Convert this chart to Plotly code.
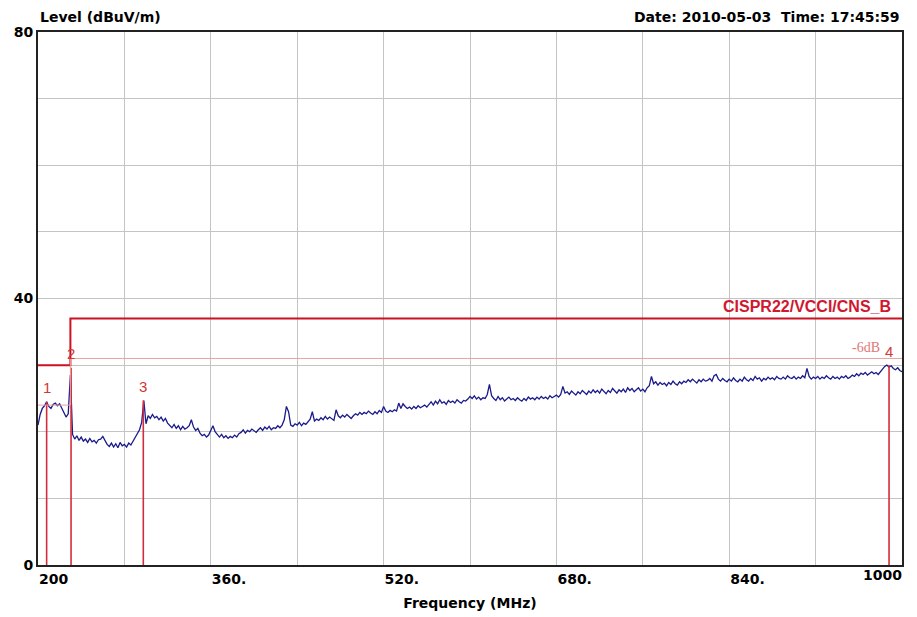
import plotly.graph_objects as go

# ---------------- data ----------------
freq_start = 200
freq_step = 2
level = [
    21.0, 22.6, 23.5, 23.9, 24.5, 23.8, 23.5, 24.1, 24.3, 23.9,
    24.2, 23.6, 23.0, 22.2, 22.7, 28.5, 19.6, 18.9, 19.4, 18.7,
    19.2, 18.6, 18.9, 18.4, 19.0, 18.5, 18.7, 18.3, 18.8, 18.9,
    19.3, 18.6, 18.1, 17.8, 18.3, 17.7, 18.2, 17.6, 18.4, 17.9,
    18.1, 17.7, 18.3, 18.0, 18.6, 19.0, 19.6, 20.3, 21.4, 24.7,
    21.2, 22.4, 22.0, 22.6, 22.1, 22.3, 21.8, 22.2, 21.6, 22.0,
    21.3, 21.0, 20.6, 21.1, 20.5, 20.9, 20.3, 20.8, 20.4, 20.6,
    20.9, 21.8, 20.7, 20.2, 20.5, 19.8, 19.4, 19.6, 19.2, 19.5,
    20.1, 20.9, 20.0, 19.5, 19.2, 19.6, 19.1, 19.4, 19.0, 19.3,
    19.1, 19.5, 19.2, 19.7, 19.9, 20.3, 19.8, 20.2, 20.0, 20.4,
    20.1, 19.9, 20.3, 20.6, 20.2, 20.7, 20.4, 20.8, 20.3, 20.6,
    20.5, 20.9, 20.6, 21.0, 21.8, 23.8, 23.0, 21.0, 20.8, 21.2,
    21.0, 21.4, 20.9, 21.3, 21.1, 21.5, 21.9, 23.0, 21.6, 21.9,
    21.7, 22.1, 21.8, 22.3, 21.9, 22.2, 22.0, 21.7, 23.3, 22.4,
    22.1, 22.5, 22.2, 22.6, 22.3, 22.0, 22.4, 22.7, 22.5, 22.9,
    22.6, 22.9, 22.7, 23.1, 22.8, 22.6, 23.0, 22.7, 23.2, 22.9,
    23.8, 23.1, 22.9, 23.2, 23.0, 23.3, 23.1, 24.3, 23.5, 24.2,
    23.8, 23.5, 23.7, 23.4, 23.8, 23.5, 23.9, 23.6, 23.8, 24.0,
    23.7, 24.2, 24.5, 24.0, 24.6, 24.2, 24.8, 24.3, 24.5, 24.1,
    24.7, 24.4, 24.6, 24.3, 24.8, 24.5, 24.3, 24.7, 24.6, 24.9,
    25.3, 25.0, 25.4, 24.9, 25.2, 24.8, 25.1, 25.0, 25.6, 27.1,
    25.4, 25.0, 24.7, 25.3, 24.8, 25.1, 24.6, 24.9, 25.2, 24.8,
    25.0, 24.7, 25.1, 24.8, 24.6, 25.0, 24.7, 25.2, 24.9, 25.1,
    24.8, 25.2, 24.9, 25.3, 25.0, 25.2, 24.9, 25.4, 25.1, 25.3,
    25.5, 25.2, 25.6, 26.8, 25.8, 26.0, 25.6, 26.1, 25.8, 25.5,
    26.0, 25.7, 26.2, 25.9, 25.6, 26.1, 25.8, 26.3, 25.9, 26.2,
    25.8, 26.4, 26.0, 25.7, 26.2, 25.9, 26.5, 26.1, 25.8, 26.3,
    26.0, 26.4, 25.9, 26.6, 26.2, 26.5, 26.0, 26.3, 26.6, 26.1,
    26.4, 26.0, 26.6, 26.9, 28.3, 27.2, 27.5, 27.0, 27.4, 27.1,
    27.3, 26.9, 27.4, 27.1, 27.6, 27.2, 27.0, 27.5, 27.2, 27.6,
    27.4, 27.8, 27.5, 27.9, 27.6, 27.3, 27.8, 27.5, 27.9, 27.6,
    27.7, 28.0, 27.6, 28.4, 28.6, 27.9, 27.6, 28.0, 27.7, 27.5,
    27.9, 27.6, 28.1, 27.7, 27.5, 27.9, 27.6, 28.2, 27.8, 27.6,
    28.0, 27.7, 28.3, 27.9, 28.1, 27.6, 28.0, 27.8, 28.2, 27.9,
    28.1, 27.8, 28.3, 28.0, 27.9, 28.2, 27.9, 28.4, 28.1, 28.0,
    28.3, 27.9, 28.2, 28.0, 28.4, 28.1, 29.5, 28.3, 27.9, 28.2,
    28.0, 28.3, 27.9, 28.2, 28.0, 28.4, 28.1, 27.9, 28.3, 28.0,
    28.2, 27.9, 28.3, 28.1, 28.4, 28.0, 28.2, 28.5, 28.3, 28.7,
    28.4, 28.8, 28.6, 28.9, 28.5, 28.8, 29.0, 28.7, 28.9, 28.6,
    29.0, 29.4, 29.8, 30.0, 29.7, 29.9, 29.5, 29.3, 29.6, 29.2,
    29.0,
]
freq = [freq_start + i * freq_step for i in range(len(level))]

limit_freq = [200, 230, 230, 1000]
limit_level = [30, 30, 37, 37]
margin_level = [24, 24, 31, 31]

marker_freq = [208.0, 230.6, 297.5, 988.0]
marker_level = [24.5, 29.6, 24.7, 30.0]
marker_label = ["1", "2", "3", "4"]

x_tickvals = [200, 360, 520, 680, 840]
x_ticktext = ["200", "360.", "520.", "680.", "840."]
x_end_tick = [1000]
x_end_text = ["1000"]
y_tickvals = [0, 40, 80]
y_ticktext = ["0", "40", "80"]

# ---------------- styles ----------------
BOLD = "DejaVu Sans"
fig = go.Figure()

fig.add_trace(go.Scatter(x=freq, y=level, mode="lines",
                         line=dict(color="#1a1a8a", width=1.3), hoverinfo="skip"))

# marker vertical lines
mx, my = [], []
for f, l in zip(marker_freq, marker_level):
    mx += [f, f, None]
    my += [0, l, None]
fig.add_trace(go.Scatter(x=mx, y=my, mode="lines",
                         line=dict(color="#d42c3c", width=1.6), hoverinfo="skip"))

fig.add_trace(go.Scatter(x=limit_freq, y=margin_level, mode="lines", xaxis="x2",
                         line=dict(color="#e9a0a0", width=1), hoverinfo="skip"))
fig.add_trace(go.Scatter(x=limit_freq, y=limit_level, mode="lines",
                         line=dict(color="#cc1122", width=2), hoverinfo="skip"))

for f, l, t in zip(marker_freq, marker_level, marker_label):
    fig.add_annotation(x=f, y=l, text=t, showarrow=False, yshift=14,
                       font=dict(family="Liberation Sans", size=15, color="#d03838"))

fig.add_annotation(x=1000, y=37, text="CISPR22/VCCI/CNS_B", showarrow=False,
                   xanchor="right", yanchor="bottom", xshift=-9, yshift=1,
                   font=dict(family="Liberation Sans", size=16, color="#d01830", weight="bold"))
fig.add_annotation(x=1000, y=31, text="-6dB", showarrow=False,
                   xanchor="right", yanchor="bottom", xshift=-20, yshift=1,
                   font=dict(family="Liberation Serif", size=14, color="#e27878"))

fig.add_annotation(x=0, y=1, xref="paper", yref="paper", text="Level (dBuV/m)",
                   showarrow=False, xanchor="left", yanchor="middle", yshift=15,
                   font=dict(family=BOLD, size=14, color="black", weight="bold"))
fig.add_annotation(x=1, y=1, xref="paper", yref="paper",
                   text="Date: 2010-05-03&nbsp;&nbsp;Time: 17:45:59",
                   showarrow=False, xanchor="right", yanchor="middle", yshift=15,
                   font=dict(family=BOLD, size=14, color="black", weight="bold"))

tickfont = dict(family=BOLD, size=14, color="black", weight="bold")
grid = "#c4c4c4"
fig.update_layout(
    width=917, height=617,
    margin=dict(l=38, r=15, t=32, b=52),
    paper_bgcolor="white", plot_bgcolor="white",
    showlegend=False,
    xaxis=dict(range=[200, 1000], tickvals=x_tickvals, ticktext=x_ticktext,
               ticklabelposition="outside right", tickfont=tickfont,
               showgrid=True, gridcolor=grid, gridwidth=1,
               minor=dict(dtick=80, tick0=200, showgrid=True, gridcolor=grid, gridwidth=1),
               showline=True, linecolor="#222", linewidth=2, mirror=True,
               zeroline=False, ticks="", automargin=False,
               title=dict(text="Frequency (MHz)", standoff=12,
                          font=dict(family=BOLD, size=14, color="black", weight="bold"))),
    xaxis2=dict(range=[200, 1000], overlaying="x", anchor="y", side="bottom",
                tickvals=x_end_tick, ticktext=x_end_text, automargin=False,
                ticklabelposition="outside left", tickfont=tickfont,
                showgrid=False, showline=False, zeroline=False, ticks=""),
    yaxis=dict(range=[0, 80], tickvals=y_tickvals, ticktext=y_ticktext,
               tickfont=tickfont, ticks="", automargin=False,
               showgrid=True, gridcolor=grid, gridwidth=1,
               minor=dict(dtick=10, tick0=0, showgrid=True, gridcolor=grid, gridwidth=1),
               showline=True, linecolor="#222", linewidth=2, mirror=True,
               zeroline=False),
)

fig.write_html("out.html")
